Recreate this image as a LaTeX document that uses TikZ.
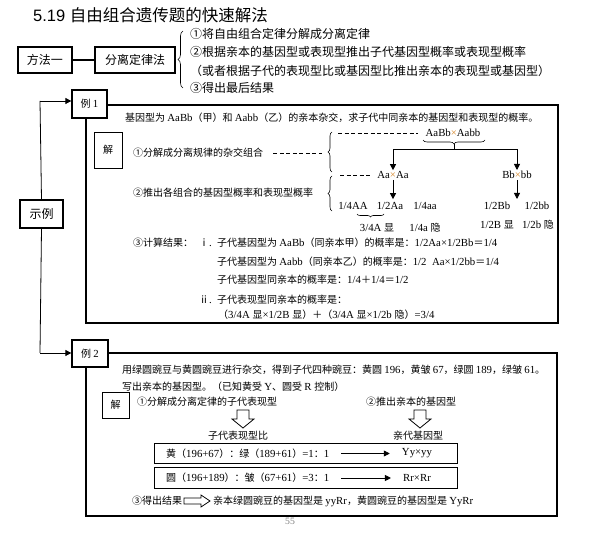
\documentclass[tikz,border=0pt]{standalone}
\usepackage{fontspec}
\setmainfont{Liberation Serif}[Scale=1.08]
\setsansfont{Liberation Sans}
\newfontfamily\cjkf{Noto Sans CJK SC}
\usetikzlibrary{arrows.meta,decorations.pathreplacing}
\newXeTeXintercharclass\CJKcls
\newcount\clsc
\def\setcls#1#2{\clsc=#1\relax\loop\XeTeXcharclass\clsc=\CJKcls\relax\ifnum\clsc<#2\relax\advance\clsc by 1\relax\repeat}
\setcls{"4E00}{"9FFF}
\setcls{"3000}{"303F}
\setcls{"FF00}{"FFEF}
\setcls{"2460}{"2473}
\setcls{"2160}{"217F}
\def\latinfont{\rmfamily}
\XeTeXinterchartoks 0 \CJKcls = {\cjkf}
\XeTeXinterchartoks 4095 \CJKcls = {\cjkf}
\XeTeXinterchartoks \CJKcls 0 = {\latinfont}
\XeTeXinterchartoks 4095 0 = {\latinfont}
\XeTeXinterchartokenstate=1
\definecolor{xorange}{RGB}{215,135,40}
\newcommand\ox{\textcolor{xorange}{×}}
\tikzset{
  bx/.style={draw, line width=1.3pt, fill=white, inner sep=0pt},
  tx/.style={inner sep=0pt, anchor=west, font=\fontsize{10}{12}\selectfont},
  tc/.style={inner sep=1pt, font=\fontsize{10}{12}\selectfont},
  mt/.style={inner sep=0pt, anchor=west, font=\fontsize{12}{14}\selectfont},
  arr/.style={-{Triangle[length=6pt,width=6pt]}, line width=0.8pt},
  dsh/.style={dash pattern=on 4pt off 2.5pt, line width=0.6pt},
  brc/.style={decorate, decoration={brace, amplitude=#1}, line width=0.6pt},
  brc/.default=5pt,
  frame/.style={line width=1.5pt},
  hollow/.style={draw, line width=0.8pt, fill=white},
  smallbox/.style={draw, line width=0.8pt, inner sep=0pt, font=\fontsize{10}{12}\selectfont},
  rowbox/.style={draw, line width=1pt, inner sep=0pt, minimum width=303pt, minimum height=20.5pt},
}
\begin{document}
\begin{tikzpicture}[x=1pt,y=-1pt]
\fill[white] (0,0) rectangle (592,534);
\useasboundingbox (0,0) rectangle (592,534);

% title
\node[inner sep=0pt, anchor=west, font=\fontsize{16.5}{18}\selectfont] (title) at (33,15) {\def\latinfont{\sffamily}5.19 自由组合遗传题的快速解法};

% method
\node[bx, minimum width=54pt, minimum height=26pt, font=\fontsize{12}{14}\selectfont] (m1) at (45,60) {方法一};
\node[bx, minimum width=80pt, minimum height=26pt, font=\fontsize{12}{14}\selectfont] (m2) at (135,60) {分离定律法};
\draw[line width=1.3pt] (m1) -- (m2);
\draw[brc=5pt] (183,88) -- (183,31);
\node[mt] (ml1) at (190,34) {①将自由组合定律分解成分离定律};
\node[mt] (ml2) at (190,52) {②根据亲本的基因型或表现型推出子代基因型概率或表现型概率};
\node[mt] (ml3) at (190,71) {（或者根据子代的表现型比或基因型比推出亲本的表现型或基因型）};
\node[mt] (ml4) at (190,88) {③得出最后结果};

% frames
\draw[frame] (86,105) rectangle (558,323);
\draw[frame] (86,353) rectangle (557,516);

% tree
\node[bx, minimum width=35pt, minimum height=28pt, font=\fontsize{10}{12}\selectfont] (e1) at (89.5,104) {例 1};
\node[bx, minimum width=36pt, minimum height=27pt, font=\fontsize{10}{12}\selectfont] (e2) at (90,353.5) {例 2};
\node[bx, minimum width=43pt, minimum height=28pt, font=\fontsize{12}{14}\selectfont] (sl) at (41.5,214) {示例};
\coordinate (ta) at (40,101);
\coordinate (tb) at (40,353);
\draw[line width=0.8pt] (ta) -- (sl.north);
\draw[line width=0.8pt] (sl.south) -- (tb);
\draw[arr] (ta) -- (ta -| e1.west);
\draw[arr] (tb) -- (tb -| e2.west);

% example 1
\node[tx] (q1) at (125,118) {基因型为 AaBb（甲）和 Aabb（乙）的亲本杂交，求子代中同亲本的基因型和表现型的概率。};
\node[smallbox, minimum width=28pt, minimum height=36pt] (j1) at (108,150) {解};
\node[tx] (s1) at (133,153) {①分解成分离规律的杂交组合};
\coordinate (d1) at (322,153);
\draw[dsh] (s1.east) ++(10,0) -- (d1);
\node[tx] (s2) at (133,193) {②推出各组合的基因型概率和表现型概率};
\draw[brc=4pt] (332,172) -- (332,132);
\draw[brc=4pt] (332,211) -- (332,176);

\node[tc] (c1) at (453,133) {AaBb\ox Aabb};
\node[tc] (c2) at (393,175) {Aa\ox Aa};
\node[tc] (c3) at (517,175) {Bb\ox bb};
\coordinate (da) at (338,133);
\coordinate (db) at (340,175);
\draw[dsh] (da) -- ([xshift=-6pt]c1.west);
\draw[dsh] (db) -- ([xshift=-5pt]c2.west);
\draw[brc=4pt] (485,140) -- (423,140);
\coordinate (bt) at (454,144);
\coordinate (hb) at (454,149);
\draw[line width=0.8pt] (bt) -- (hb);
\draw[arr] (hb) -| (c2);
\draw[arr] (hb) -| (c3);

\tikzset{rw/.style={inner sep=3pt, font=\fontsize{10}{12}\selectfont}}
\node[rw] (r1) at (353,206) {1/4AA};
\node[rw] (r2) at (390,206) {1/2Aa};
\node[rw] (r3) at (425,206) {1/4aa};
\node[rw] (r4) at (497,206) {1/2Bb};
\node[rw] (r5) at (537,206) {1/2bb};
\draw[arr] (c2) -- (c2 |- r2.north);
\draw[arr] (c3) -- (c3 |- r4.north);
\draw[brc=3pt] (384,214) -- (357,214);
\node[tc] (p1) at (377,228) {3/4A 显};
\node[tc] (p2) at (425,228) {1/4a 隐};
\node[tc] (p3) at (497,225) {1/2B 显};
\node[tc] (p4) at (538,225) {1/2b 隐};

\node[tx] (s3) at (133,243) {③计算结果：};
\node[tx] (i1) at (199,243) {ⅰ.};
\node[tx] (k1) at (217,243) {子代基因型为 AaBb（同亲本甲）的概率是：1/2Aa×1/2Bb＝1/4};
\node[tx] (k2) at (217,262) {子代基因型为 Aabb（同亲本乙）的概率是：1/2\ \ Aa×1/2bb＝1/4};
\node[tx] (k3) at (217,280) {子代基因型同亲本的概率是：1/4＋1/4＝1/2};
\node[tx] (i2) at (199,300) {ⅱ.};
\node[tx] (k4) at (217,300) {子代表现型同亲本的概率是：};
\node[tx] (k5) at (218,315) {（3/4A 显×1/2B 显）＋（3/4A 显×1/2b 隐）=3/4};

% example 2
\node[tx] (q2) at (122,370) {用绿圆豌豆与黄圆豌豆进行杂交，得到子代四种豌豆：黄圆 196，黄皱 67，绿圆 189，绿皱 61。};
\node[tx] (q3) at (122,387) {写出亲本的基因型。（已知黄受 Y、圆受 R 控制）};
\node[smallbox, minimum width=27pt, minimum height=26pt] (j2) at (115.5,405) {解};
\node[tx] (u1) at (137,402) {①分解成分离定律的子代表现型};
\node[tx] (u2) at (366,402) {②推出亲本的基因型};
\draw[hollow] (237,410) -- (249,410) -- (249,419) -- (254,419) -- (243,428) -- (232,419) -- (237,419) -- cycle;
\draw[hollow] (414,410) -- (426,410) -- (426,419) -- (431,419) -- (420,428) -- (409,419) -- (414,419) -- cycle;
\node[tc] (l1) at (238,436) {子代表现型比};
\node[tc] (l2) at (418,436) {亲代基因型};
\node[rowbox] (b1) at (305.5,453.5) {};
\node[rowbox] (b2) at (305.5,478) {};
\node[tx] (y1) at (166,453.5) {黄（196+67）：绿（189+61）=1：1};
\node[tc] (y2) at (417,453.5) {Yy×yy};
\draw[arr] ([xshift=12pt]y1.east) -- ([xshift=-11pt]y2.west);
\node[tx] (z1) at (166,478) {圆（196+189）：皱（67+61）=3：1};
\node[tc] (z2) at (417,478) {Rr×Rr};
\draw[arr] ([xshift=12pt]z1.east) -- ([xshift=-11pt]z2.west);
\node[tx] (f1) at (132,501) {③得出结果};
\draw[hollow] (184,498) -- (201,498) -- (201,495) -- (210,501) -- (201,507) -- (201,504) -- (184,504) -- cycle;
\node[tx] (f2) at (213,501) {亲本绿圆豌豆的基因型是 yyRr，黄圆豌豆的基因型是 YyRr};
\node[tc, font=\fontsize{9}{10}\selectfont, text=gray] (pg) at (290,521) {55};
\end{tikzpicture}
\end{document}
